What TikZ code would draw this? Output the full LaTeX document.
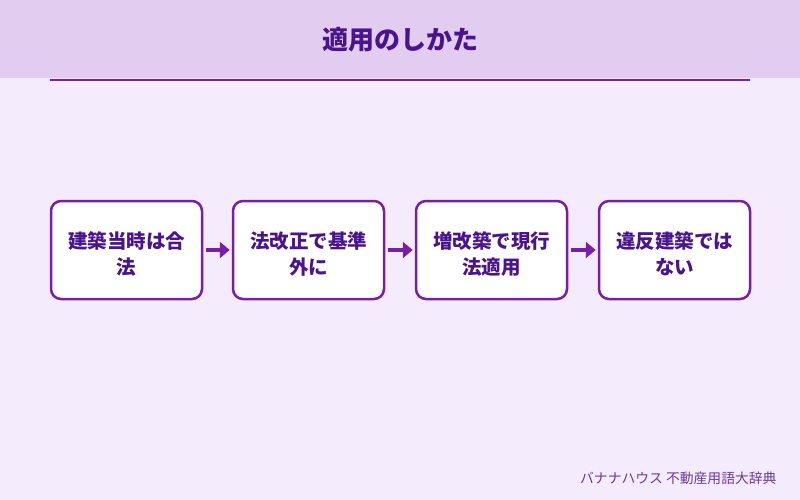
\documentclass[tikz,border=0pt]{standalone}
\usepackage{fontspec}
\setmainfont{Noto Sans CJK JP}
\usetikzlibrary{arrows.meta}
\definecolor{bgc}{HTML}{F4ECFC}
\definecolor{hdr}{HTML}{E2CDF0}
\definecolor{pur}{HTML}{7B1FA2}
\definecolor{dtxt}{HTML}{4A148C}
\definecolor{ftxt}{HTML}{6A3A9A}
\tikzset{
  stepbox/.style={draw=pur, line width=2.5pt, fill=white, rounded corners=10pt,
    minimum width=151pt, minimum height=98pt, inner sep=0pt},
  steptext/.style={inner sep=0pt, align=center,
    text=dtxt, font=\fontsize{19.5pt}{26pt}\selectfont\bfseries},
  flow/.style={draw=pur, line width=3.5pt, -{Triangle[length=10pt,width=16pt]}}
}
\begin{document}
\begin{tikzpicture}[x=1pt,y=-1pt]
\useasboundingbox (0,0) rectangle (800,500);
\fill[bgc] (0,0) rectangle (800,500);
\fill[hdr] (0,0) rectangle (800,78);
\node[text=dtxt, font=\fontsize{26pt}{30pt}\selectfont\bfseries] (title) at (400,40) {適用のしかた};
\coordinate (la) at (50,80.5);
\coordinate (lb) at (750,80.5);
\draw[pur, line width=2pt] (la) -- (lb);
\node[stepbox] (b1) at (126.5,250) {};
\node[stepbox] (b2) at (308.5,250) {};
\node[stepbox] (b3) at (491.5,250) {};
\node[stepbox] (b4) at (674.5,250) {};
\node[steptext] (t1) at ([yshift=-4pt]b1.center) {建築当時は合\\法};
\node[steptext] (t2) at ([yshift=-4pt]b2.center) {法改正で基準\\外に};
\node[steptext] (t3) at ([yshift=-4pt]b3.center) {増改築で現行\\法適用};
\node[steptext] (t4) at ([yshift=-4pt]b4.center) {違反建築では\\ない};
\draw[flow] ([xshift=3pt]b1.east) -- ([xshift=-2pt]b2.west);
\draw[flow] ([xshift=3pt]b2.east) -- ([xshift=-2pt]b3.west);
\draw[flow] ([xshift=3pt]b3.east) -- ([xshift=-2pt]b4.west);
\node[anchor=east, text=ftxt, font=\fontsize{13.8pt}{16pt}\selectfont] (foot) at (780,478) {バナナハウス 不動産用語大辞典};
\end{tikzpicture}
\end{document}
